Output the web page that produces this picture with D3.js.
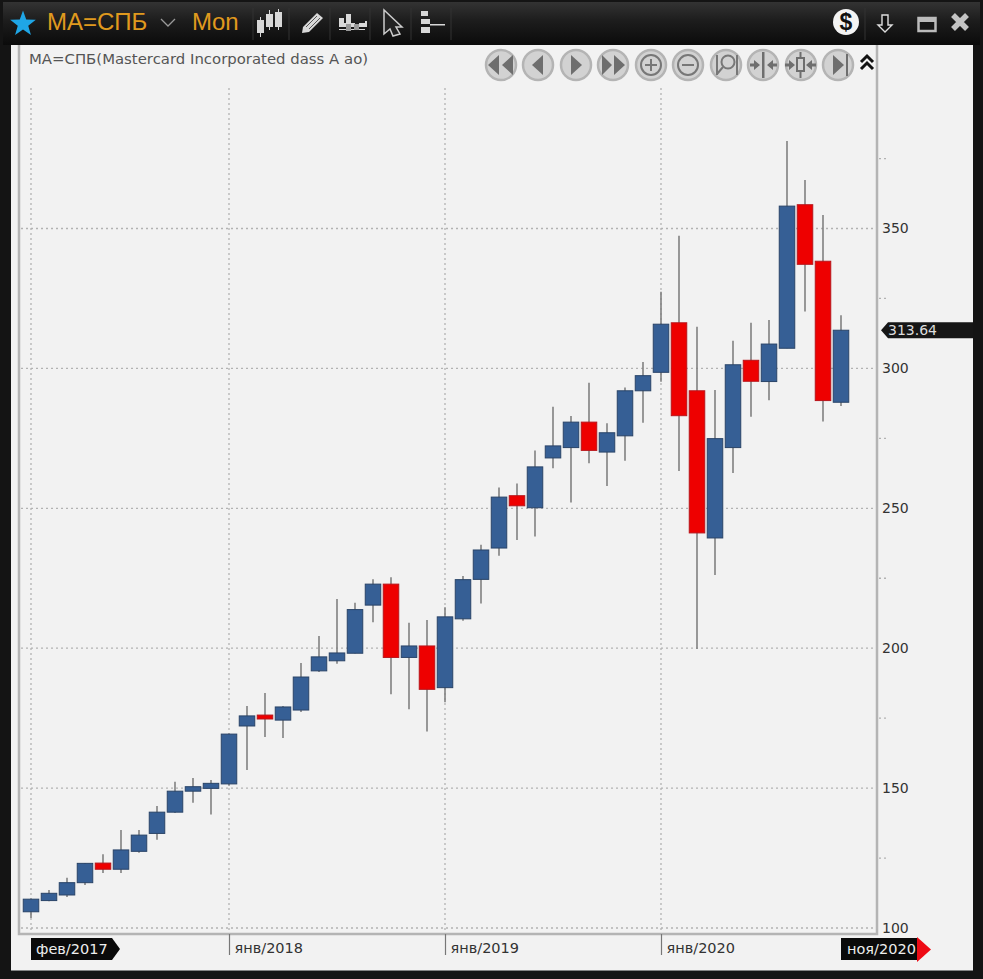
<!DOCTYPE html>
<html>
<head>
<meta charset="utf-8">
<script src="https://cdn.jsdelivr.net/npm/d3@7"></script>
<style>
  html, body { margin: 0; padding: 0; background: #111; overflow: hidden; }
  svg { display: block; }
</style>
</head>
<body>
<div id="chart"></div>
<script>
// monthly candles
var months = ["фев/2017","мар/2017","апр/2017","май/2017","июн/2017","июл/2017","авг/2017","сен/2017","окт/2017","ноя/2017","дек/2017",
  "янв/2018","фев/2018","мар/2018","апр/2018","май/2018","июн/2018","июл/2018","авг/2018","сен/2018","окт/2018","ноя/2018","дек/2018",
  "янв/2019","фев/2019","мар/2019","апр/2019","май/2019","июн/2019","июл/2019","авг/2019","сен/2019","окт/2019","ноя/2019","дек/2019",
  "янв/2020","фев/2020","мар/2020","апр/2020","май/2020","июн/2020","июл/2020","авг/2020","сен/2020","окт/2020","ноя/2020"];
var opens = [105.8,109.8,111.8,116.2,123.2,121,127.4,133.8,141.4,148.9,149.9,
  151.5,172.2,176.1,174.3,177.9,191.9,195.5,198.2,215.4,222.9,196.7,200.8,
  185.9,210.5,224.6,235.8,254.5,250.2,268,271.7,280.8,270.1,275.9,292,
  298.6,316.3,292,239.4,271.7,302.9,295.3,307.2,358.5,338.3,287.9];
var highs = [110.5,113.6,118,123.2,126.4,135,135,143.6,152.3,153.6,152.9,
  169.5,179.3,184,179.3,194.7,204.4,217.6,216.2,224.6,225.4,209.1,210.1,
  214.6,225.8,237,257.4,258.9,270.7,286.3,283,294.9,280.4,293.2,302.3,
  327.4,347.4,314.9,292.3,309.9,316.3,317.3,381.3,367.3,354.8,319];
var lows = [103.6,109.6,111.1,115.4,119.7,119.7,126.9,131.5,141.1,144.8,140.6,
  150.8,156.5,168.3,167.9,177.2,191.5,194.4,198.1,209.3,183.5,178.2,170.2,
  180.7,209.8,216,233,238.7,239.9,264.3,252.1,266.1,258,267,280.6,
  295.2,263.3,199.7,226.2,262.6,282.7,288.6,307.2,320.3,281,286.6];
var closes = [110.3,112.4,116.2,123.1,121,127.9,133.2,141.4,148.9,150.5,151.7,
  169.3,175.8,174.7,179,189.7,196.9,198.3,213.8,222.9,196.7,200.8,185.3,
  211.2,224.5,235.1,254,250.9,264.8,272.3,280.8,270.7,277,292,297.4,
  315.8,283.1,241.2,274.9,301.3,295.4,308.7,358,337.2,288.5,313.64];

var yTicks = [100, 150, 200, 250, 300, 350];
var yMinorTicks = [125, 175, 225, 275, 325, 375];
var xTicks = ["янв/2018", "янв/2019", "янв/2020"];
var firstMonth = months[0];
var lastMonth = months[months.length - 1];
var lastPrice = closes[closes.length - 1];

var svgWidth = 983;
var svgHeight = 979;

var plot = { left: 19, right: 877, top: 45, bottom: 934 };
var labelFont = "DejaVu Sans, sans-serif";
var gridColor = "#b2b2b2";
var textColor = "#333";

var svg = d3.select("#chart")
  .append("svg")
  .attr("width", svgWidth)
  .attr("height", svgHeight);

// scales
var xScale = d3.scalePoint().domain(months).range([31, 841]);
var yScale = d3.scaleLinear().domain([100, 350]).range([928, 228.5]);

// window frame and header
var defs = svg.append("defs");
var headGrad = defs.append("linearGradient")
  .attr("id", "head").attr("x1", 0).attr("x2", 0).attr("y1", 0).attr("y2", 1);
headGrad.append("stop").attr("offset", "0%").attr("stop-color", "#333");
headGrad.append("stop").attr("offset", "45%").attr("stop-color", "#1c1c1c");
headGrad.append("stop").attr("offset", "100%").attr("stop-color", "#0b0b0b");

svg.append("rect").attr("width", svgWidth).attr("height", svgHeight).attr("fill", "#141414");
svg.append("rect").attr("x", 3).attr("y", 2).attr("width", 977).attr("height", 43).attr("fill", "url(#head)");
svg.append("rect").attr("x", 11).attr("y", 45).attr("width", 962).attr("height", 925.5).attr("fill", "#f2f2f2");

// plot border
svg.append("path")
  .attr("d", `M${plot.left},${plot.top}V${plot.bottom}H${plot.right}V${plot.top}`)
  .attr("fill", "none")
  .attr("stroke", "#b4b4b4")
  .attr("stroke-width", 2.5);

// grid
var grid = svg.append("g").attr("stroke", gridColor).attr("stroke-dasharray", "2,3").attr("stroke-width", 1.3);
grid.selectAll(".hgrid").data(yTicks).join("line")
  .attr("x1", plot.left + 2).attr("x2", plot.right - 2)
  .attr("y1", d => yScale(d)).attr("y2", d => yScale(d));
grid.selectAll(".vgrid").data([firstMonth].concat(xTicks)).join("line")
  .attr("x1", d => xScale(d)).attr("x2", d => xScale(d))
  .attr("y1", 88).attr("y2", plot.bottom);
grid.selectAll(".minor").data(yMinorTicks).join("line")
  .attr("x1", plot.right + 2).attr("x2", plot.right + 9)
  .attr("y1", d => yScale(d)).attr("y2", d => yScale(d));

// y axis
var yAxis = d3.axisRight(yScale).tickValues(yTicks).tickSize(0).tickPadding(0);
var yG = svg.append("g").attr("transform", "translate(882,0)").call(yAxis);
yG.select(".domain").remove();
yG.selectAll("text").attr("font-family", labelFont).attr("font-size", 14).attr("fill", textColor);

// x axis
var xAxis = d3.axisBottom(xScale).tickValues(xTicks).tickSize(21).tickPadding(0);
var xG = svg.append("g").attr("transform", `translate(0,${plot.bottom})`).call(xAxis);
xG.select(".domain").remove();
xG.selectAll("line").attr("stroke", "#777").attr("stroke-width", 1.2);
xG.selectAll("text")
  .attr("font-family", labelFont).attr("font-size", 14.5).attr("fill", textColor)
  .attr("text-anchor", "start").attr("x", 5).attr("y", 9).attr("dy", "0.71em");

// candles
var candles = months.map((m, i) => ({ m: m, o: opens[i], h: highs[i], l: lows[i], c: closes[i] }));
var candleWidth = 15.5;
var candle = svg.append("g").selectAll("g").data(candles).join("g");

candle.append("line")
  .attr("x1", d => xScale(d.m)).attr("x2", d => xScale(d.m))
  .attr("y1", d => yScale(d.h)).attr("y2", d => yScale(d.l))
  .attr("stroke", "#808080").attr("stroke-width", 1.6);

candle.append("rect")
  .attr("x", d => xScale(d.m) - candleWidth / 2)
  .attr("width", candleWidth)
  .attr("y", d => yScale(Math.max(d.o, d.c)))
  .attr("height", d => Math.abs(yScale(d.o) - yScale(d.c)))
  .attr("fill", d => d.c >= d.o ? "#365f95" : "#ee0000")
  .attr("stroke", d => d.c >= d.o ? "#2a4468" : "#b8141a")
  .attr("stroke-width", 1);

// first/last month flags
svg.append("path").attr("d", "M31,938H112L120,949L112,960H31Z").attr("fill", "#0a0a0a");
svg.append("text").attr("x", 36).attr("y", 954).text(firstMonth)
  .attr("font-family", labelFont).attr("font-size", 14.5).attr("fill", "#eee");

svg.append("rect").attr("x", 841).attr("y", 938).attr("width", 77).attr("height", 22).attr("fill", "#0a0a0a");
svg.append("path").attr("d", "M917,937L931,949.5L917,962Z").attr("fill", "#ee0a14");
svg.append("text").attr("x", 847).attr("y", 954).text(lastMonth)
  .attr("font-family", labelFont).attr("font-size", 14.5).attr("fill", "#eee");

// last price flag
var py = yScale(lastPrice);
svg.append("path")
  .attr("d", `M881,${py}L888,${py - 8}H973V${py + 8}H888Z`)
  .attr("fill", "#161616");
svg.append("text").attr("x", 888).attr("y", py + 5).text(lastPrice)
  .attr("font-family", labelFont).attr("font-size", 14).attr("fill", "#ddd");

// title
svg.append("text").attr("x", 29).attr("y", 64)
  .text("MA=СПБ(Mastercard Incorporated dass A ao)")
  .attr("font-family", labelFont).attr("font-size", 14.9).attr("fill", "#555");

// header text
var orange = "#e09a1e";
svg.append("text").attr("x", 47).attr("y", 30).text("MA=СПБ")
  .attr("font-family", "Liberation Sans, sans-serif").attr("font-size", 24).attr("fill", orange);
svg.append("text").attr("x", 192).attr("y", 30).text("Mon")
  .attr("font-family", "Liberation Sans, sans-serif").attr("font-size", 24).attr("fill", orange);
svg.append("path").attr("d", "M161,19L168,26L175,19").attr("fill", "none").attr("stroke", "#999").attr("stroke-width", 1.3);

// star
var star = d3.range(10).map(i => {
  var r = i % 2 ? 5.5 : 13.5, a = i * Math.PI / 5 - Math.PI / 2;
  return [23 + r * Math.cos(a), 24 + r * Math.sin(a)];
});
svg.append("polygon").attr("points", star.join(" ")).attr("fill", "#1fa6e6");

// toolbar separators
svg.append("g").selectAll("line").data([253, 289, 330, 370, 411, 451, 865]).join("line")
  .attr("x1", d => d).attr("x2", d => d).attr("y1", 8).attr("y2", 40)
  .attr("stroke", "#333");

// toolbar icons
var icons = svg.append("g").attr("fill", "#d8d8d8").attr("stroke", "none");
icons.append("path").attr("d", "M257,20h7v13h-7zM266,14h7v13h-7zM275,12h7v15h-7z");
icons.append("path").attr("d", "M260,17h1v20h-1zM269,10h1v20h-1zM278,9h1v21h-1z");
icons.append("path").attr("d", "M303,27L317,13L323,18L309,32L302,33Z");
icons.append("path").attr("d", "M306,27L317,16M309,29L320,18").attr("stroke", "#555").attr("stroke-width", 1);
icons.append("path").attr("d", "M339,18h5v5h2v-9h5v9h2v-0h2v6h4v-6h6v-2h2v6h-28zM339,29h26v1h-26z");
icons.append("path").attr("d", "M346,24h5v7h-5zM354,24h5v6h-5z").attr("fill", "#999");
svg.append("path").attr("d", "M384,10V34L390,29L393,36L400,34L396,27L402,27Z")
  .attr("fill", "#222").attr("stroke", "#ccc").attr("stroke-width", 1.5);
icons.append("path").attr("d", "M421,11h7v5h-7zM421,19h9v5h-9zM421,27h9v6h-9zM430,24h15v1.5h-15z");

// right side header icons
svg.append("circle").attr("cx", 846).attr("cy", 22).attr("r", 13).attr("fill", "#f4f4f4");
svg.append("text").attr("x", 846).attr("y", 30).attr("text-anchor", "middle").text("$")
  .attr("font-family", "Liberation Sans, sans-serif").attr("font-weight", "bold").attr("font-size", 23).attr("fill", "#111");
svg.append("path").attr("d", "M882,15h6v10h4L885,32L878,25h4Z")
  .attr("fill", "#111").attr("stroke", "#ddd").attr("stroke-width", 1.4);
svg.append("rect").attr("x", 918.5).attr("y", 18).attr("width", 17).attr("height", 13)
  .attr("fill", "#161616").attr("stroke", "#bbb").attr("stroke-width", 2.5);
svg.append("rect").attr("x", 918).attr("y", 17).attr("width", 18).attr("height", 5).attr("fill", "#bbb");
svg.append("path").attr("d", "M953,15L967,29M967,15L953,29")
  .attr("stroke", "#c4c4c4").attr("stroke-width", 5.5).attr("fill", "none");

// navigation buttons
var buttons = [
  { x: 501, d: "M499,55V75L488,65ZM513,55V75L502,65Z" },
  { x: 538, d: "M543,55V75L532,65Z" },
  { x: 576, d: "M571,55V75L582,65Z" },
  { x: 613, d: "M602,55V75L612,65ZM614,55V75L625,65Z" },
  { x: 651, d: "" },
  { x: 688, d: "" },
  { x: 726, d: "" },
  { x: 763, d: "M762,52h2.5v26h-2.5zM760,65l-6,-5v3.5h-4v3h4v3.5zM767,65l6,-5v3.5h4v3h-4v3.5z" },
  { x: 801, d: "M799.5,52h2v26h-2zM796,57h9v15h-9zM795,65l-6,-5v3.5h-4v3h4v3.5zM806,65l6,-5v3.5h4v3h-4v3.5z" },
  { x: 838, d: "M833,55V75L844,65ZM846,54h2v22h-2z" }
];
var btn = svg.append("g").selectAll("g").data(buttons).join("g");
btn.append("circle")
  .attr("cx", d => d.x).attr("cy", 65).attr("r", 15)
  .attr("fill", "#d2d2d2").attr("stroke", "#b4b4b4").attr("stroke-width", 2.5);
btn.append("path").attr("d", d => d.d).attr("fill", "#6e6e6e");
svg.append("rect").attr("x", 798).attr("y", 59).attr("width", 5).attr("height", 11).attr("fill", "#d2d2d2");

// plus, minus and zoom glyphs
var glyph = svg.append("g").attr("fill", "none").attr("stroke", "#777").attr("stroke-width", 2);
glyph.append("circle").attr("cx", 651).attr("cy", 65).attr("r", 10);
glyph.append("path").attr("d", "M645,65H657M651,59V71");
glyph.append("circle").attr("cx", 688).attr("cy", 65).attr("r", 10);
glyph.append("path").attr("d", "M682,65H694");
glyph.append("circle").attr("cx", 728).attr("cy", 62).attr("r", 6.5);
glyph.append("path").attr("d", "M723,67L717,74M717,55V75M737,55V75");

// collapse chevrons
svg.append("path").attr("d", "M861,62L867,56L873,62M861,69L867,63L873,69")
  .attr("fill", "none").attr("stroke", "#111").attr("stroke-width", 3);
</script>
</body>
</html>
